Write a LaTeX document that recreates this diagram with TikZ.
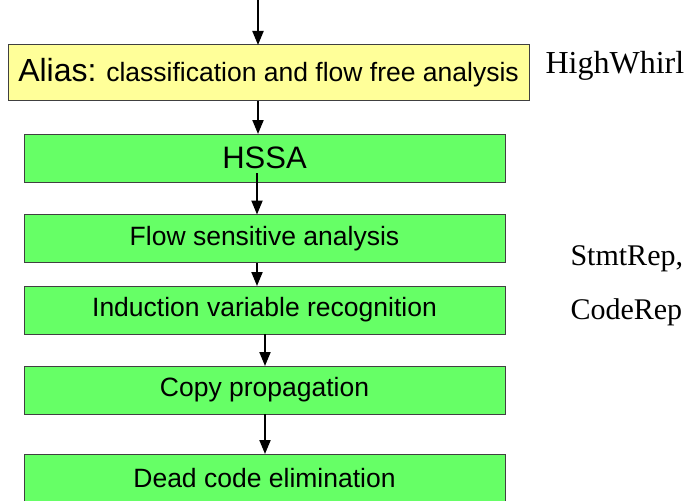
\documentclass[tikz,border=0pt]{standalone}
\usepackage{fontspec}
\setmainfont{Liberation Sans}
\newfontfamily\labelserif{Liberation Serif}
\usetikzlibrary{arrows.meta}
\definecolor{aliasfill}{HTML}{FFFF99}
\definecolor{passfill}{HTML}{66FF66}
\definecolor{boxedge}{HTML}{404040}
\begin{document}
\begin{tikzpicture}[x=1pt,y=-1pt,
  stage/.style={draw=boxedge, line width=1pt, inner sep=0pt, outer sep=0pt,
    minimum width=481pt, minimum height=48pt, fill=passfill,
    font=\fontsize{26.5}{30}\selectfont},
  flow/.style={line width=2pt, -{Triangle[length=14pt,width=11pt]}},
  side/.style={anchor=base west, font=\labelserif\fontsize{30}{33}\selectfont}]
  \useasboundingbox (0,0) rectangle (692,500);

  % pipeline stages
  \node[stage, fill=aliasfill, minimum width=521pt, minimum height=56pt]
    (alias) at (268.5,73) {{\fontsize{32}{36}\selectfont Alias:} classification and flow free analysis};
  \node[stage, font=\fontsize{31}{34}\selectfont] (hssa) at (264.5,158) {HSSA};
  \node[stage] (fsa)  at (264.5,238.5) {Flow sensitive analysis};
  \node[stage] (ivr)  at (264.5,310)   {Induction variable recognition};
  \node[stage] (copy) at (264.5,390)   {Copy propagation};
  \node[stage] (dce)  at (264.5,478)   {Dead code elimination};

  % representation labels
  \node[side, font=\labelserif\fontsize{32}{35}\selectfont] (hw) at (542,74) {HighWhirl};
  \node[side] (stmt) at (567,265) {StmtRep,};
  \node[side] (code) at (567,319) {CodeRep};

  % arrow columns
  \coordinate (entry) at (258,0);
  \coordinate (colA) at (257,0);
  \coordinate (colB) at (265,0);

  \draw[flow] (entry) -- (alias.north -| entry);
  \draw[flow] (alias.south -| entry) -- (hssa.north -| entry);
  \draw[flow] ([yshift=9pt]hssa.south -| colA) -- (fsa.north -| colA);
  \draw[flow] (fsa.south -| colA) -- (ivr.north -| colA);
  \draw[flow] (ivr.south -| colB) -- (copy.north -| colB);
  \draw[flow] (copy.south -| colB) -- (dce.north -| colB);
\end{tikzpicture}
\end{document}
